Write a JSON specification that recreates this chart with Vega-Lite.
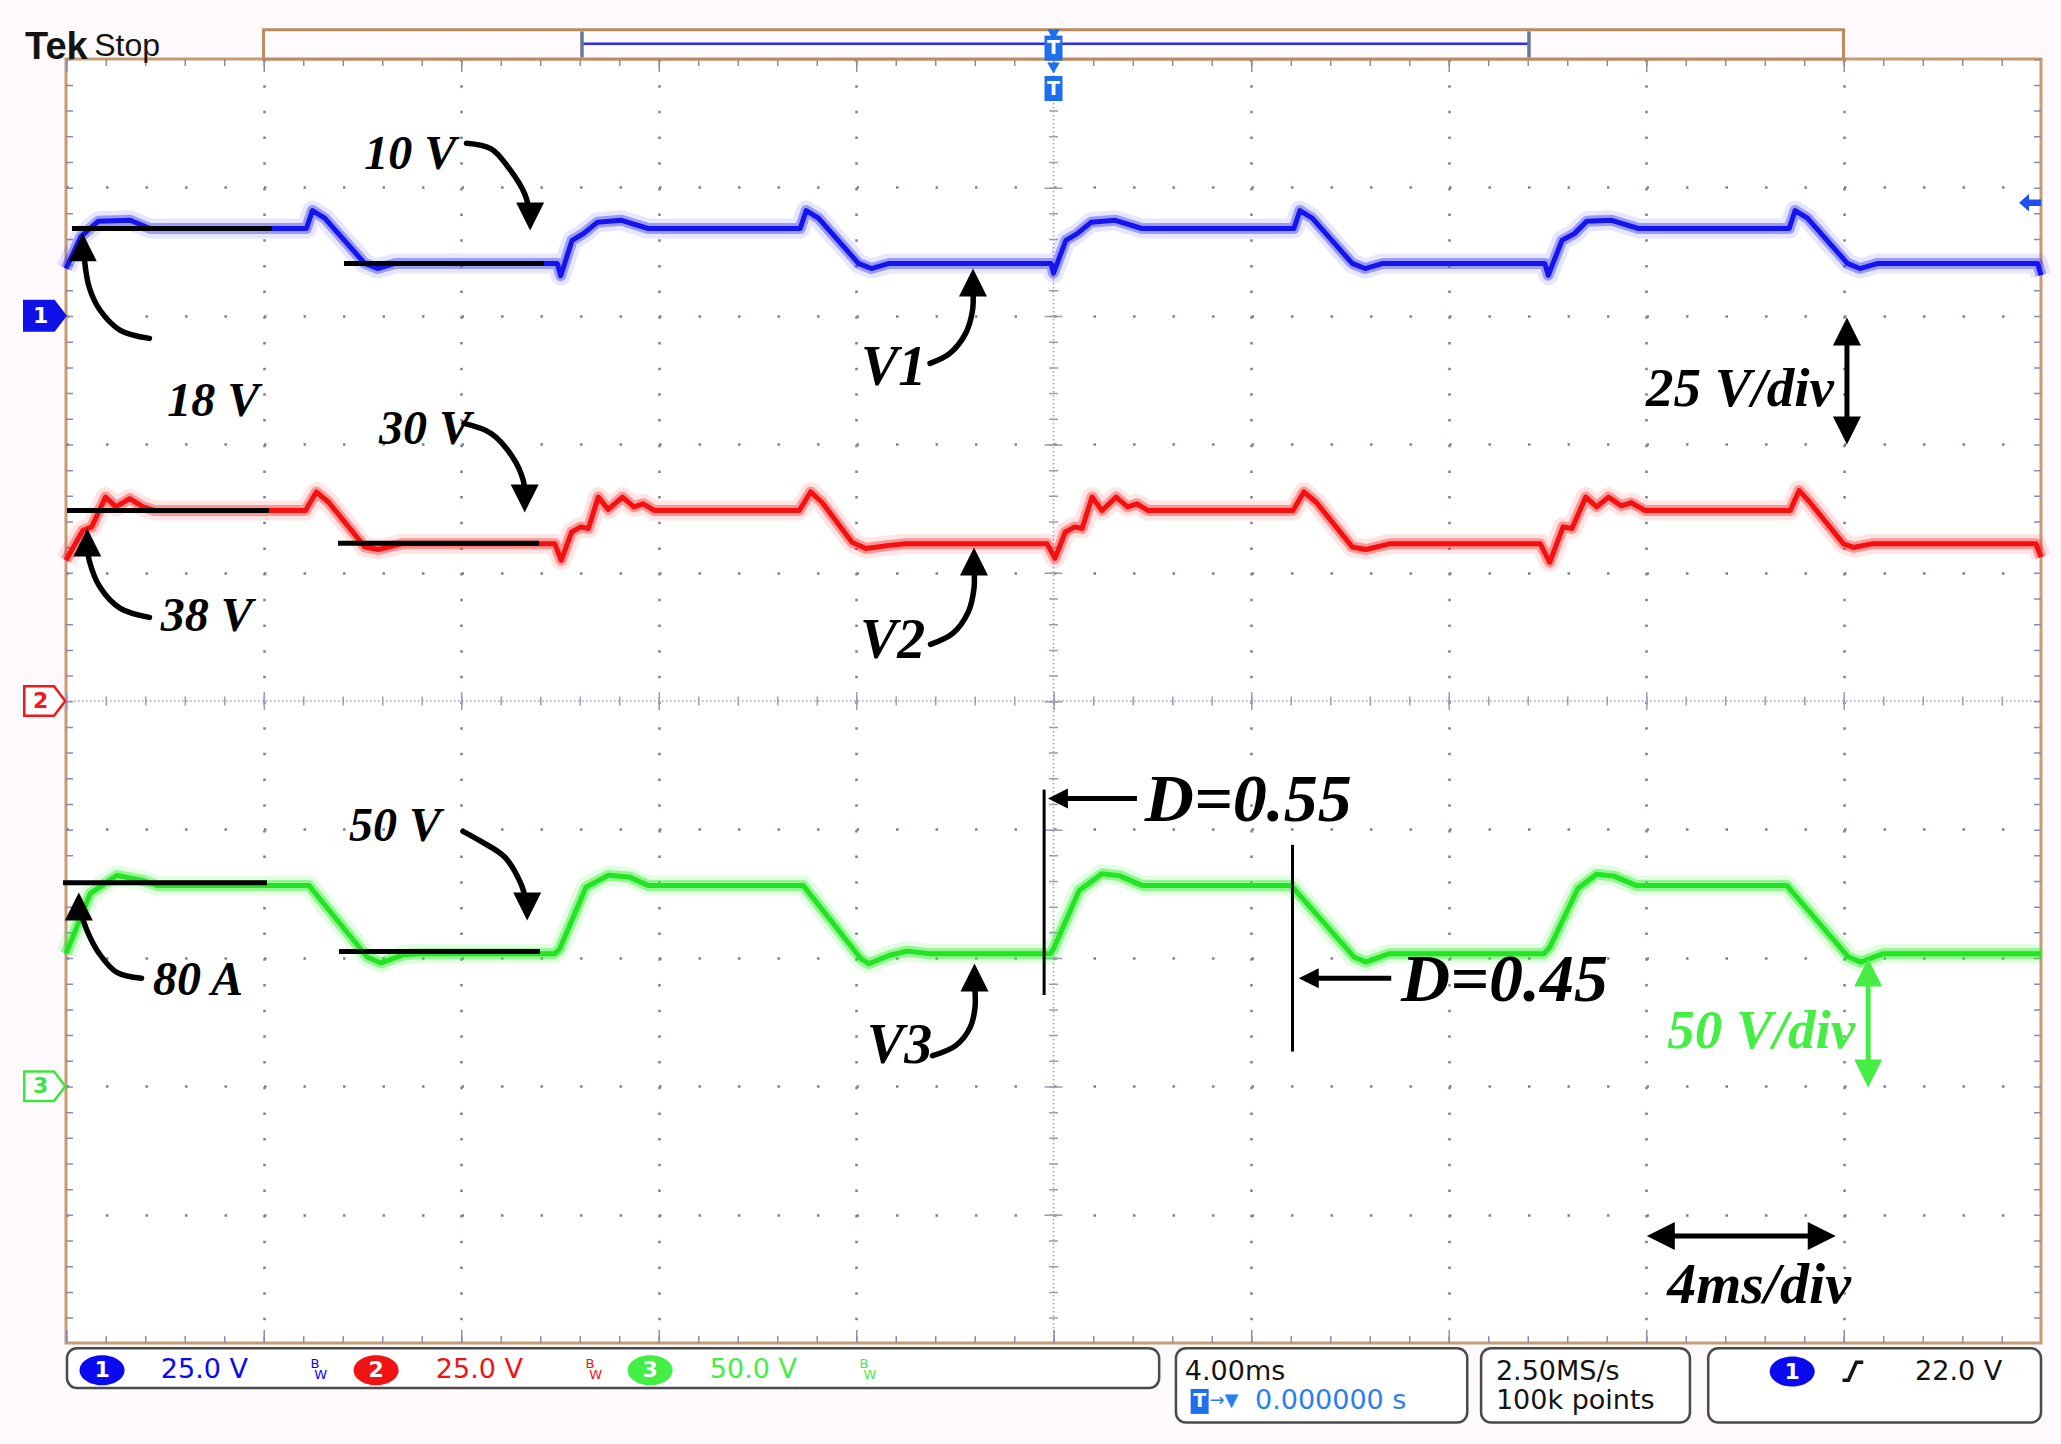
{
"$schema": "https://vega.github.io/schema/vega-lite/v6.json",
"width": 1975,
"height": 1284,
"autosize": {"type": "none"},
"padding": {"left": 66, "top": 59, "right": 20, "bottom": 101},
"background": "#FDF9FD",
"config": {"view": {"fill": "#FFFFFF", "stroke": "#C79C72", "strokeWidth": 3}},
"datasets": {
"ch1": [
{"t":-20,"v":9.2},{"t":-19.7,"v":15.4},{"t":-19.35,"v":18.4},{"t":-18.7,"v":18.6},{"t":-18.3,"v":17.0},
{"t":-15.13,"v":17.0},{"t":-15.01,"v":20.5},{"t":-14.76,"v":19.0},{"t":-13.95,"v":10.2},{"t":-13.69,"v":9.2},{"t":-13.33,"v":10.2},
{"t":-10.05,"v":10.2},{"t":-9.98,"v":7.8},{"t":-9.75,"v":14.7},{"t":-9.52,"v":16.0},{"t":-9.24,"v":18.2},{"t":-8.75,"v":18.6},{"t":-8.21,"v":17.0},
{"t":-5.13,"v":17.0},{"t":-5.01,"v":20.5},{"t":-4.76,"v":19.0},{"t":-3.95,"v":10.2},{"t":-3.69,"v":9.2},{"t":-3.33,"v":10.2},
{"t":-0.05,"v":10.2},{"t":0.0,"v":8.3},{"t":0.25,"v":14.7},{"t":0.48,"v":16.0},{"t":0.76,"v":18.2},{"t":1.25,"v":18.6},{"t":1.79,"v":17.0},
{"t":4.87,"v":17.0},{"t":4.99,"v":20.5},{"t":5.24,"v":19.0},{"t":6.05,"v":10.2},{"t":6.31,"v":9.2},{"t":6.67,"v":10.2},
{"t":9.95,"v":10.2},{"t":10.02,"v":7.9},{"t":10.3,"v":14.7},{"t":10.55,"v":16.0},{"t":10.8,"v":18.4},{"t":11.3,"v":18.6},{"t":11.85,"v":17.0},
{"t":14.9,"v":17.0},{"t":15.02,"v":20.5},{"t":15.27,"v":19.0},{"t":16.08,"v":10.2},{"t":16.33,"v":9.2},{"t":16.7,"v":10.2},
{"t":19.93,"v":10.2},{"t":20.0,"v":7.9}
],
"ch2": [
{"t":-20,"v":27.4},{"t":-19.66,"v":33.2},{"t":-19.48,"v":33.9},{"t":-19.2,"v":39.7},{"t":-18.99,"v":37.8},{"t":-18.71,"v":39.4},{"t":-18.44,"v":37.8},{"t":-18.2,"v":37.1},
{"t":-15.15,"v":37.1},{"t":-14.93,"v":40.7},{"t":-14.68,"v":38.7},{"t":-13.95,"v":30.0},{"t":-13.67,"v":29.5},{"t":-13.2,"v":30.6},
{"t":-10.1,"v":30.6},{"t":-9.97,"v":27.4},{"t":-9.76,"v":32.9},{"t":-9.57,"v":33.9},{"t":-9.42,"v":33.6},{"t":-9.22,"v":39.7},{"t":-9.02,"v":37.3},{"t":-8.73,"v":39.7},{"t":-8.5,"v":37.8},{"t":-8.31,"v":38.4},{"t":-8.09,"v":37.1},
{"t":-5.15,"v":37.1},{"t":-4.92,"v":40.7},{"t":-4.69,"v":38.7},{"t":-4.08,"v":30.9},{"t":-3.8,"v":29.7},{"t":-3.33,"v":30.3},{"t":-3.0,"v":30.6},
{"t":-0.13,"v":30.6},{"t":0.03,"v":27.8},{"t":0.24,"v":32.9},{"t":0.43,"v":33.9},{"t":0.58,"v":33.6},{"t":0.78,"v":39.7},{"t":0.98,"v":37.1},{"t":1.27,"v":39.7},{"t":1.5,"v":37.8},{"t":1.69,"v":38.4},{"t":1.91,"v":37.1},
{"t":4.85,"v":37.1},{"t":5.07,"v":40.7},{"t":5.32,"v":38.7},{"t":6.05,"v":30.0},{"t":6.33,"v":29.5},{"t":6.8,"v":30.6},
{"t":9.86,"v":30.6},{"t":10.05,"v":27.0},{"t":10.32,"v":33.9},{"t":10.5,"v":33.6},{"t":10.78,"v":39.7},{"t":11.0,"v":37.8},{"t":11.24,"v":39.7},{"t":11.5,"v":38.0},{"t":11.7,"v":38.6},{"t":11.98,"v":37.1},
{"t":14.92,"v":37.1},{"t":15.1,"v":41.0},{"t":15.3,"v":38.9},{"t":16.0,"v":30.6},{"t":16.2,"v":29.9},{"t":16.57,"v":30.6},
{"t":19.9,"v":30.6},{"t":20.0,"v":28.0}
],
"ch3": [
{"t":-20,"v":51.6},{"t":-19.51,"v":75.0},{"t":-18.97,"v":82.1},{"t":-18.42,"v":80.0},{"t":-18.16,"v":78.2},
{"t":-15.08,"v":78.2},{"t":-13.9,"v":50.3},{"t":-13.62,"v":48.0},{"t":-13.15,"v":51.3},{"t":-12.8,"v":51.6},
{"t":-10.1,"v":51.6},{"t":-10.0,"v":53.5},{"t":-9.47,"v":77.5},{"t":-9.02,"v":82.1},{"t":-8.6,"v":81.5},{"t":-8.21,"v":78.2},
{"t":-5.07,"v":78.2},{"t":-3.9,"v":49.6},{"t":-3.74,"v":47.7},{"t":-3.33,"v":50.9},{"t":-2.97,"v":52.6},{"t":-2.5,"v":51.6},
{"t":-0.07,"v":51.6},{"t":0.0,"v":53.5},{"t":0.52,"v":76.2},{"t":0.98,"v":82.7},{"t":1.33,"v":82.0},{"t":1.79,"v":78.2},
{"t":4.81,"v":78.2},{"t":6.09,"v":50.3},{"t":6.33,"v":48.3},{"t":6.8,"v":51.6},
{"t":9.93,"v":51.6},{"t":10.05,"v":54.0},{"t":10.62,"v":77.0},{"t":11.0,"v":82.5},{"t":11.35,"v":81.8},{"t":11.8,"v":78.2},
{"t":14.85,"v":78.2},{"t":16.1,"v":50.3},{"t":16.35,"v":48.3},{"t":16.8,"v":51.6},
{"t":20.0,"v":51.6}
],
"levels": [
{"ch":"1","t":-19.88,"t2":-15.83,"v":17.0},{"ch":"1","t":-14.37,"t2":-10.32,"v":10.2},
{"ch":"2","t":-19.98,"t2":-15.89,"v":37.1},{"ch":"2","t":-14.49,"t2":-10.42,"v":30.7},
{"ch":"3","t":-20.06,"t2":-15.93,"v":79.2},{"ch":"3","t":-14.47,"t2":-10.4,"v":52.5}
],
"hline": [{"t":-20,"t2":20,"d":0}],
"vline": [{"t":0,"d":5,"d2":-5}],
"hedges": [{"t":-20,"t2":20,"d":5},{"t":-20,"t2":20,"d":-5}],
"vedges": [{"t":-20,"d":5,"d2":-5},{"t":20,"d":5,"d2":-5}],
"notes": [
{"t":-13.96,"d":4.256,"label":"10 V","kind":"level","src":"ink"},
{"t":-17.95,"d":2.33,"label":"18 V","kind":"level","src":"ink"},
{"t":-13.66,"d":2.108,"label":"30 V","kind":"level","src":"ink"},
{"t":-18.08,"d":0.651,"label":"38 V","kind":"level","src":"ink"},
{"t":-14.27,"d":-0.984,"label":"50 V","kind":"level","src":"ink"},
{"t":-18.24,"d":-2.178,"label":"80 A","kind":"level","src":"ink"},
{"t":-3.9,"d":2.59,"label":"V1","kind":"trace","src":"ink"},
{"t":-3.92,"d":0.466,"label":"V2","kind":"trace","src":"ink"},
{"t":-3.78,"d":-2.69,"label":"V3","kind":"trace","src":"ink"},
{"t":1.85,"d":-0.78,"label":"D=0.55","kind":"duty","src":"ink"},
{"t":7.04,"d":-2.178,"label":"D=0.45","kind":"duty","src":"ink"},
{"t":12.0,"d":2.43,"label":"25 V/div","kind":"scale","src":"ink"},
{"t":12.43,"d":-2.567,"label":"50 V/div","kind":"scale","src":"3"},
{"t":12.43,"d":-4.555,"label":"4ms/div","kind":"time","src":"ink"}
],
"curves": [
{"a":"10V","i":0,"t":-11.89,"d":4.343},{"a":"10V","i":1,"t":-11.39,"d":4.3},{"a":"10V","i":2,"t":-11.03,"d":4.15},{"a":"10V","i":3,"t":-10.71,"d":3.95},{"a":"10V","i":4,"t":-10.61,"d":3.8},
{"a":"18V","i":0,"t":-18.31,"d":2.824},{"a":"18V","i":1,"t":-18.9,"d":2.887},{"a":"18V","i":2,"t":-19.31,"d":3.043},{"a":"18V","i":3,"t":-19.53,"d":3.222},{"a":"18V","i":4,"t":-19.63,"d":3.45},
{"a":"30V","i":0,"t":-11.94,"d":2.162},{"a":"30V","i":1,"t":-11.39,"d":2.084},{"a":"30V","i":2,"t":-10.95,"d":1.897},{"a":"30V","i":3,"t":-10.74,"d":1.72},{"a":"30V","i":4,"t":-10.71,"d":1.62},
{"a":"38V","i":0,"t":-18.31,"d":0.651},{"a":"38V","i":1,"t":-18.9,"d":0.721},{"a":"38V","i":2,"t":-19.31,"d":0.885},{"a":"38V","i":3,"t":-19.53,"d":1.095},{"a":"38V","i":4,"t":-19.57,"d":1.2},
{"a":"50V","i":0,"t":-11.96,"d":-1.015},{"a":"50V","i":1,"t":-11.61,"d":-1.09},{"a":"50V","i":2,"t":-11.11,"d":-1.217},{"a":"50V","i":3,"t":-10.79,"d":-1.42},{"a":"50V","i":4,"t":-10.68,"d":-1.56},
{"a":"80A","i":0,"t":-18.47,"d":-2.16},{"a":"80A","i":1,"t":-18.97,"d":-2.114},{"a":"80A","i":2,"t":-19.33,"d":-1.966},{"a":"80A","i":3,"t":-19.55,"d":-1.81},{"a":"80A","i":4,"t":-19.7,"d":-1.65},
{"a":"V1","i":0,"t":-2.5,"d":2.629},{"a":"V1","i":1,"t":-2.1,"d":2.707},{"a":"V1","i":2,"t":-1.78,"d":2.863},{"a":"V1","i":3,"t":-1.64,"d":3.042},{"a":"V1","i":4,"t":-1.63,"d":3.2},
{"a":"V2","i":0,"t":-2.49,"d":0.441},{"a":"V2","i":1,"t":-2.04,"d":0.526},{"a":"V2","i":2,"t":-1.73,"d":0.69},{"a":"V2","i":3,"t":-1.61,"d":0.877},{"a":"V2","i":4,"t":-1.61,"d":1.03},
{"a":"V3","i":0,"t":-2.45,"d":-2.762},{"a":"V3","i":1,"t":-1.98,"d":-2.684},{"a":"V3","i":2,"t":-1.69,"d":-2.544},{"a":"V3","i":3,"t":-1.59,"d":-2.388},{"a":"V3","i":4,"t":-1.6,"d":-2.2}
],
"heads": [
{"t":-10.6,"d":3.774,"dir":"down","grp":"c","src":"ink"},
{"t":-19.66,"d":3.533,"dir":"up","grp":"c","src":"ink"},
{"t":-10.71,"d":1.578,"dir":"down","grp":"c","src":"ink"},
{"t":-19.57,"d":1.235,"dir":"up","grp":"c","src":"ink"},
{"t":-10.66,"d":-1.6,"dir":"down","grp":"c","src":"ink"},
{"t":-19.74,"d":-1.6,"dir":"up","grp":"c","src":"ink"},
{"t":-1.63,"d":3.26,"dir":"up","grp":"c","src":"ink"},
{"t":-1.61,"d":1.087,"dir":"up","grp":"c","src":"ink"},
{"t":-1.6,"d":-2.153,"dir":"up","grp":"c","src":"ink"},
{"t":0.09,"d":-0.759,"dir":"left","grp":"duty","src":"ink"},
{"t":5.17,"d":-2.16,"dir":"left","grp":"duty","src":"ink"},
{"t":16.07,"d":2.878,"dir":"up","grp":"s","src":"ink"},
{"t":16.07,"d":2.107,"dir":"down","grp":"s","src":"ink"},
{"t":16.5,"d":-2.115,"dir":"up","grp":"s","src":"3"},
{"t":16.5,"d":-2.902,"dir":"down","grp":"s","src":"3"},
{"t":12.3,"d":-4.166,"dir":"left","grp":"s","src":"ink"},
{"t":15.56,"d":-4.166,"dir":"right","grp":"s","src":"ink"}
],
"shafts": [
{"t":1.69,"t2":0.2,"d":-0.759,"d2":-0.759,"src":"ink"},
{"t":6.84,"t2":5.3,"d":-2.16,"d2":-2.16,"src":"ink"},
{"t":16.07,"t2":16.07,"d":2.878,"d2":2.107,"src":"ink"},
{"t":16.5,"t2":16.5,"d":-2.115,"d2":-2.902,"src":"3"},
{"t":12.3,"t2":15.56,"d":-4.166,"d2":-4.166,"src":"ink"}
],
"dbars": [
{"t":-0.19,"d":-0.69,"d2":-2.29},
{"t":4.84,"d":-1.12,"d2":-2.73}
],
"boxes": [
{"t":-19.98,"t2":2.14,"d":-5.04,"d2":-5.35},
{"t":2.48,"t2":8.38,"d":-5.04,"d2":-5.62},
{"t":8.66,"t2":12.89,"d":-5.04,"d2":-5.62},
{"t":13.26,"t2":20.0,"d":-5.04,"d2":-5.62}
],
"status": [
{"t":-18.08,"d":-5.213,"label":"25.0 V","src":"1"},
{"t":-12.51,"d":-5.213,"label":"25.0 V","src":"2"},
{"t":-6.96,"d":-5.213,"label":"50.0 V","src":"3"},
{"t":2.66,"d":-5.222,"label":"4.00ms","src":"sys"},
{"t":4.08,"d":-5.455,"label":"0.000000 s","src":"trig"},
{"t":8.96,"d":-5.222,"label":"2.50MS/s","src":"sys"},
{"t":8.96,"d":-5.455,"label":"100k points","src":"sys"},
{"t":17.45,"d":-5.222,"label":"22.0 V","src":"sys"}
],
"small": [
{"t":-14.96,"d":-5.165,"label":"B","src":"1"},{"t":-14.84,"d":-5.25,"label":"W","src":"1"},
{"t":-9.39,"d":-5.165,"label":"B","src":"2"},{"t":-9.27,"d":-5.25,"label":"W","src":"2"},
{"t":-3.84,"d":-5.165,"label":"B","src":"3"},{"t":-3.72,"d":-5.25,"label":"W","src":"3"}
],
"arrowglyph": [{"t":3.45,"d":-5.455,"label":"→▼","src":"trig"}],
"badges": [
{"t":-19.27,"d":-5.213,"label":"1","src":"1"},
{"t":-13.72,"d":-5.213,"label":"2","src":"2"},
{"t":-8.17,"d":-5.213,"label":"3","src":"3"},
{"t":14.96,"d":-5.222,"label":"1","src":"1"}
],
"chmarks": [
{"t":-20.43,"d":3,"label":"1","src":"1"},
{"t":-20.43,"d":0,"label":"2","src":"2"},
{"t":-20.43,"d":-3,"label":"3","src":"3"}
],
"tmarks": [{"t":0,"d":5.085},{"t":0,"d":4.77},{"t":2.96,"d":-5.455}],
"ttri": [{"t":0,"d":5.19},{"t":0,"d":4.93}],
"triglevel": [{"t":19.78,"d":3.88}],
"edge": [
{"t":15.98,"d":-5.29,"i":0},{"t":16.1,"d":-5.29,"i":1},{"t":16.26,"d":-5.15,"i":2},{"t":16.4,"d":-5.15,"i":3}
],
"header": [
{"t":-20.83,"d":5.0,"label":"Tek","w":"bold"},
{"t":-19.43,"d":5.02,"label":"Stop","w":"normal"}
],
"recbox": [{"t":-16,"t2":16,"d":5.0,"d2":5.228}],
"recline": [{"t":-9.55,"t2":9.63,"d":5.118}],
"recends": [{"t":-9.55,"d":5.012,"d2":5.215},{"t":9.63,"d":5.012,"d2":5.215}]
},
"encoding": {
"x": {"field": "t", "type": "quantitative",
 "scale": {"domain": [-20, 20], "nice": false, "zero": false},
 "axis": {"values": [-16,-12,-8,-4,4,8,12,16], "grid": true, "gridDash": [2.5, 23.18], "gridColor": "#7E7E9C", "gridWidth": 2.5, "labels": false, "ticks": false, "domain": false, "title": null}}
},
"layer": [
{
 "layer": [
  {"data": {"name": "hline"},
   "mark": {"type": "rule", "color": "#9C9CB8", "strokeWidth": 1.5, "strokeDash": [1.5, 2.5]},
   "encoding": {"x2": {"field": "t2"},
    "y": {"field": "d", "type": "quantitative", "scale": {"domain": [-5, 5], "nice": false, "zero": false},
     "axis": {"values": [-4,-3,-2,-1,1,2,3,4], "grid": true, "gridDash": [2.5, 37], "gridColor": "#7E7E9C", "gridWidth": 2.5, "labels": false, "ticks": false, "domain": false, "title": null}}}},
  {"data": {"name": "hline"},
   "mark": {"type": "rule", "color": "#9C9CB8", "strokeWidth": 9, "strokeDash": [1.5, 38]},
   "encoding": {"x2": {"field": "t2"}, "y": {"field": "d", "type": "quantitative"}}},
  {"data": {"name": "hline"},
   "mark": {"type": "rule", "color": "#9C9CB8", "strokeWidth": 18, "strokeDash": [1.5, 196]},
   "encoding": {"x2": {"field": "t2"}, "y": {"field": "d", "type": "quantitative"}}},
  {"data": {"name": "vline"},
   "mark": {"type": "rule", "color": "#9C9CB8", "strokeWidth": 1.5, "strokeDash": [1.5, 2.5]},
   "encoding": {"y": {"field": "d", "type": "quantitative"}, "y2": {"field": "d2"}}},
  {"data": {"name": "vline"},
   "mark": {"type": "rule", "color": "#9C9CB8", "strokeWidth": 9, "strokeDash": [1.5, 24.18]},
   "encoding": {"y": {"field": "d", "type": "quantitative"}, "y2": {"field": "d2"}}},
  {"data": {"name": "vline"},
   "mark": {"type": "rule", "color": "#9C9CB8", "strokeWidth": 18, "strokeDash": [1.5, 126.9]},
   "encoding": {"y": {"field": "d", "type": "quantitative"}, "y2": {"field": "d2"}}},
  {"data": {"name": "hedges"},
   "mark": {"type": "rule", "color": "#8C8CA8", "strokeWidth": 14, "strokeDash": [1.5, 38], "clip": true},
   "encoding": {"x2": {"field": "t2"}, "y": {"field": "d", "type": "quantitative"}}},
  {"data": {"name": "hedges"},
   "mark": {"type": "rule", "color": "#8C8CA8", "strokeWidth": 26, "strokeDash": [1.5, 196], "clip": true},
   "encoding": {"x2": {"field": "t2"}, "y": {"field": "d", "type": "quantitative"}}},
  {"data": {"name": "vedges"},
   "mark": {"type": "rule", "color": "#8C8CA8", "strokeWidth": 14, "strokeDash": [1.5, 24.18], "clip": true},
   "encoding": {"y": {"field": "d", "type": "quantitative"}, "y2": {"field": "d2"}}}
 ]
},
{
 "layer": [
  {"data": {"name": "ch1"}, "mark": {"type": "line", "color": "#3A3AF8", "strokeWidth": 20, "opacity": 0.13, "strokeJoin": "round"},
   "encoding": {"y": {"field": "v", "type": "quantitative", "scale": {"domain": [-200, 50], "nice": false, "zero": false}, "axis": null}}},
  {"data": {"name": "ch1"}, "mark": {"type": "line", "color": "#2A2AF5", "strokeWidth": 11, "opacity": 0.4, "strokeJoin": "round"},
   "encoding": {"y": {"field": "v", "type": "quantitative", "axis": null}}},
  {"data": {"name": "ch1"}, "mark": {"type": "line", "color": "#1414EE", "strokeWidth": 5, "strokeJoin": "round"},
   "encoding": {"y": {"field": "v", "type": "quantitative", "axis": null}}},
  {"data": {"name": "levels"}, "transform": [{"filter": "datum.ch === '1'"}],
   "mark": {"type": "rule", "color": "#000000", "strokeWidth": 5},
   "encoding": {"x2": {"field": "t2"}, "y": {"field": "v", "type": "quantitative", "axis": null}}}
 ]
},
{
 "layer": [
  {"data": {"name": "ch2"}, "mark": {"type": "line", "color": "#FF3030", "strokeWidth": 20, "opacity": 0.13, "strokeJoin": "round"},
   "encoding": {"y": {"field": "v", "type": "quantitative", "scale": {"domain": [-125, 125], "nice": false, "zero": false}, "axis": null}}},
  {"data": {"name": "ch2"}, "mark": {"type": "line", "color": "#FF2020", "strokeWidth": 11, "opacity": 0.4, "strokeJoin": "round"},
   "encoding": {"y": {"field": "v", "type": "quantitative", "axis": null}}},
  {"data": {"name": "ch2"}, "mark": {"type": "line", "color": "#F51010", "strokeWidth": 5, "strokeJoin": "round"},
   "encoding": {"y": {"field": "v", "type": "quantitative", "axis": null}}},
  {"data": {"name": "levels"}, "transform": [{"filter": "datum.ch === '2'"}],
   "mark": {"type": "rule", "color": "#000000", "strokeWidth": 5},
   "encoding": {"x2": {"field": "t2"}, "y": {"field": "v", "type": "quantitative", "axis": null}}}
 ]
},
{
 "layer": [
  {"data": {"name": "ch3"}, "mark": {"type": "line", "color": "#40F040", "strokeWidth": 20, "opacity": 0.15, "strokeJoin": "round"},
   "encoding": {"y": {"field": "v", "type": "quantitative", "scale": {"domain": [-100, 400], "nice": false, "zero": false}, "axis": null}}},
  {"data": {"name": "ch3"}, "mark": {"type": "line", "color": "#30EE30", "strokeWidth": 11, "opacity": 0.45, "strokeJoin": "round"},
   "encoding": {"y": {"field": "v", "type": "quantitative", "axis": null}}},
  {"data": {"name": "ch3"}, "mark": {"type": "line", "color": "#22E422", "strokeWidth": 5, "strokeJoin": "round"},
   "encoding": {"y": {"field": "v", "type": "quantitative", "axis": null}}},
  {"data": {"name": "levels"}, "transform": [{"filter": "datum.ch === '3'"}],
   "mark": {"type": "rule", "color": "#000000", "strokeWidth": 5},
   "encoding": {"x2": {"field": "t2"}, "y": {"field": "v", "type": "quantitative", "axis": null}}}
 ]
},
{
 "layer": [
  {"data": {"name": "recbox"},
   "mark": {"type": "rect", "fill": "#FFFBFF", "stroke": "#BC8C5E", "strokeWidth": 3},
   "encoding": {"x2": {"field": "t2"}, "y": {"field": "d", "type": "quantitative", "scale": {"domain": [-5, 5], "nice": false, "zero": false}, "axis": null}, "y2": {"field": "d2"}}},
  {"data": {"name": "recline"},
   "mark": {"type": "rule", "color": "#2E2EF0", "strokeWidth": 2.5},
   "encoding": {"x2": {"field": "t2"}, "y": {"field": "d", "type": "quantitative", "axis": null}}},
  {"data": {"name": "recends"},
   "mark": {"type": "rule", "color": "#66789A", "strokeWidth": 3.5},
   "encoding": {"y": {"field": "d", "type": "quantitative", "axis": null}, "y2": {"field": "d2"}}},
  {"data": {"name": "boxes"},
   "mark": {"type": "rect", "fill": "#FFFFFF", "stroke": "#4A4A4A", "strokeWidth": 2.5, "cornerRadius": 10},
   "encoding": {"x2": {"field": "t2"}, "y": {"field": "d", "type": "quantitative", "axis": null}, "y2": {"field": "d2"}}},
  {"data": {"name": "curves"},
   "mark": {"type": "line", "color": "#000000", "strokeWidth": 5.5, "interpolate": "catmull-rom", "strokeCap": "round"},
   "encoding": {"y": {"field": "d", "type": "quantitative", "axis": null}, "detail": {"field": "a"}, "order": {"field": "i", "type": "quantitative"}}},
  {"data": {"name": "shafts"},
   "mark": {"type": "rule", "strokeWidth": 5},
   "encoding": {"x2": {"field": "t2"}, "y": {"field": "d", "type": "quantitative", "axis": null}, "y2": {"field": "d2"},
    "color": {"field": "src", "type": "nominal", "scale": {"domain": ["1","2","3","sys","trig","ink","white"], "range": ["#0A0AEE","#F01414","#44EE44","#141414","#2A7EF2","#000000","#FFFFFF"]}, "legend": null}}},
  {"data": {"name": "dbars"},
   "mark": {"type": "rule", "color": "#000000", "strokeWidth": 3},
   "encoding": {"y": {"field": "d", "type": "quantitative", "axis": null}, "y2": {"field": "d2"}}},
  {"data": {"name": "heads"},
   "mark": {"type": "point", "filled": true, "opacity": 1},
   "encoding": {"y": {"field": "d", "type": "quantitative", "axis": null},
    "shape": {"field": "dir", "type": "nominal", "scale": {"domain": ["up","down","left","right"], "range": ["M0,-1L1,1L-1,1Z","M0,1L1,-1L-1,-1Z","M-1,0L1,-1L1,1Z","M1,0L-1,-1L-1,1Z"]}, "legend": null},
    "size": {"condition": {"test": "datum.grp === 'duty'", "value": 400}, "value": 784},
    "color": {"field": "src", "type": "nominal", "scale": {"domain": ["1","2","3","sys","trig","ink","white"], "range": ["#0A0AEE","#F01414","#44EE44","#141414","#2A7EF2","#000000","#FFFFFF"]}, "legend": null}}},
  {"data": {"name": "notes"},
   "mark": {"type": "text", "font": "Liberation Serif", "fontStyle": "italic", "fontWeight": "bold", "align": "left", "baseline": "middle"},
   "encoding": {"y": {"field": "d", "type": "quantitative", "axis": null}, "text": {"field": "label"},
    "size": {"condition": [{"test": "datum.kind === 'trace'", "value": 56}, {"test": "datum.kind === 'duty'", "value": 68}, {"test": "datum.kind === 'scale'", "value": 55}, {"test": "datum.kind === 'time'", "value": 58}], "value": 48},
    "color": {"field": "src", "type": "nominal", "scale": {"domain": ["1","2","3","sys","trig","ink","white"], "range": ["#0A0AEE","#F01414","#44EE44","#141414","#2A7EF2","#000000","#FFFFFF"]}, "legend": null}}},
  {"data": {"name": "chmarks"},
   "mark": {"type": "point", "filled": true, "opacity": 1, "size": 1681, "strokeWidth": 2.5, "shape": "M-1,-0.72L0.45,-0.72L1,0L0.45,0.72L-1,0.72Z"},
   "encoding": {"y": {"field": "d", "type": "quantitative", "axis": null},
    "fill": {"condition": {"test": "datum.src === '1'", "value": "#1010E8"}, "value": "#FFFFFF"},
    "stroke": {"condition": [{"test": "datum.src === '2'", "value": "#F01818"}, {"test": "datum.src === '3'", "value": "#3CE63C"}], "value": "#1010E8"}}},
  {"data": {"name": "chmarks"},
   "mark": {"type": "text", "font": "DejaVu Sans", "fontWeight": "bold", "fontSize": 22, "align": "center", "baseline": "middle", "dx": -4},
   "encoding": {"y": {"field": "d", "type": "quantitative", "axis": null}, "text": {"field": "label"},
    "color": {"condition": [{"test": "datum.src === '2'", "value": "#F01818"}, {"test": "datum.src === '3'", "value": "#3CE63C"}], "value": "#FFFFFF"}}},
  {"data": {"name": "badges"},
   "mark": {"type": "point", "filled": true, "opacity": 1, "size": 900, "shape": "M-1.5,0A1.5,1 0 1,1 1.5,0A1.5,1 0 1,1 -1.5,0Z"},
   "encoding": {"y": {"field": "d", "type": "quantitative", "axis": null},
    "color": {"field": "src", "type": "nominal", "scale": {"domain": ["1","2","3","sys","trig","ink","white"], "range": ["#0A0AEE","#F01414","#44EE44","#141414","#2A7EF2","#000000","#FFFFFF"]}, "legend": null}}},
  {"data": {"name": "badges"},
   "mark": {"type": "text", "font": "DejaVu Sans", "fontWeight": "bold", "fontSize": 22, "align": "center", "baseline": "middle", "color": "#FFFFFF"},
   "encoding": {"y": {"field": "d", "type": "quantitative", "axis": null}, "text": {"field": "label"}}},
  {"data": {"name": "status"},
   "mark": {"type": "text", "font": "DejaVu Sans", "fontSize": 27, "align": "left", "baseline": "middle"},
   "encoding": {"y": {"field": "d", "type": "quantitative", "axis": null}, "text": {"field": "label"},
    "color": {"field": "src", "type": "nominal", "scale": {"domain": ["1","2","3","sys","trig","ink","white"], "range": ["#0A0AEE","#F01414","#44EE44","#141414","#2A7EF2","#000000","#FFFFFF"]}, "legend": null}}},
  {"data": {"name": "small"},
   "mark": {"type": "text", "font": "DejaVu Sans", "fontSize": 13, "align": "center", "baseline": "middle"},
   "encoding": {"y": {"field": "d", "type": "quantitative", "axis": null}, "text": {"field": "label"},
    "color": {"field": "src", "type": "nominal", "scale": {"domain": ["1","2","3","sys","trig","ink","white"], "range": ["#0A0AEE","#F01414","#44EE44","#141414","#2A7EF2","#000000","#FFFFFF"]}, "legend": null}}},
  {"data": {"name": "arrowglyph"},
   "mark": {"type": "text", "font": "DejaVu Sans", "fontSize": 18, "align": "center", "baseline": "middle"},
   "encoding": {"y": {"field": "d", "type": "quantitative", "axis": null}, "text": {"field": "label"},
    "color": {"field": "src", "type": "nominal", "scale": {"domain": ["1","2","3","sys","trig","ink","white"], "range": ["#0A0AEE","#F01414","#44EE44","#141414","#2A7EF2","#000000","#FFFFFF"]}, "legend": null}}},
  {"data": {"name": "tmarks"},
   "mark": {"type": "point", "filled": true, "opacity": 1, "size": 625, "color": "#1E6EEE", "shape": "M-0.72,-1L0.72,-1L0.72,1L-0.72,1Z"},
   "encoding": {"y": {"field": "d", "type": "quantitative", "axis": null}}},
  {"data": {"name": "tmarks"},
   "mark": {"type": "text", "font": "DejaVu Sans", "fontWeight": "bold", "fontSize": 19, "align": "center", "baseline": "middle", "color": "#FFFFFF", "text": "T"},
   "encoding": {"y": {"field": "d", "type": "quantitative", "axis": null}}},
  {"data": {"name": "ttri"},
   "mark": {"type": "point", "filled": true, "opacity": 1, "size": 160, "color": "#1E6EEE", "shape": "triangle-down"},
   "encoding": {"y": {"field": "d", "type": "quantitative", "axis": null}}},
  {"data": {"name": "triglevel"},
   "mark": {"type": "point", "filled": true, "opacity": 1, "size": 484, "color": "#1E50F0", "shape": "M-1,0L-0.1,-0.8L-0.1,-0.3L1,-0.3L1,0.3L-0.1,0.3L-0.1,0.8Z"},
   "encoding": {"y": {"field": "d", "type": "quantitative", "axis": null}}},
  {"data": {"name": "edge"},
   "mark": {"type": "line", "color": "#141414", "strokeWidth": 3.5},
   "encoding": {"y": {"field": "d", "type": "quantitative", "axis": null}, "order": {"field": "i", "type": "quantitative"}}},
  {"data": {"name": "header"}, "transform": [{"filter": "datum.w === 'bold'"}],
   "mark": {"type": "text", "font": "Liberation Sans", "fontWeight": "bold", "fontSize": 38, "align": "left", "baseline": "alphabetic", "color": "#141414"},
   "encoding": {"y": {"field": "d", "type": "quantitative", "axis": null}, "text": {"field": "label"}}},
  {"data": {"name": "header"}, "transform": [{"filter": "datum.w === 'normal'"}],
   "mark": {"type": "text", "font": "Liberation Sans", "fontSize": 32, "align": "left", "baseline": "alphabetic", "color": "#141414"},
   "encoding": {"y": {"field": "d", "type": "quantitative", "axis": null}, "text": {"field": "label"}}}
 ]
}
],
"resolve": {"scale": {"y": "independent"}}
}
